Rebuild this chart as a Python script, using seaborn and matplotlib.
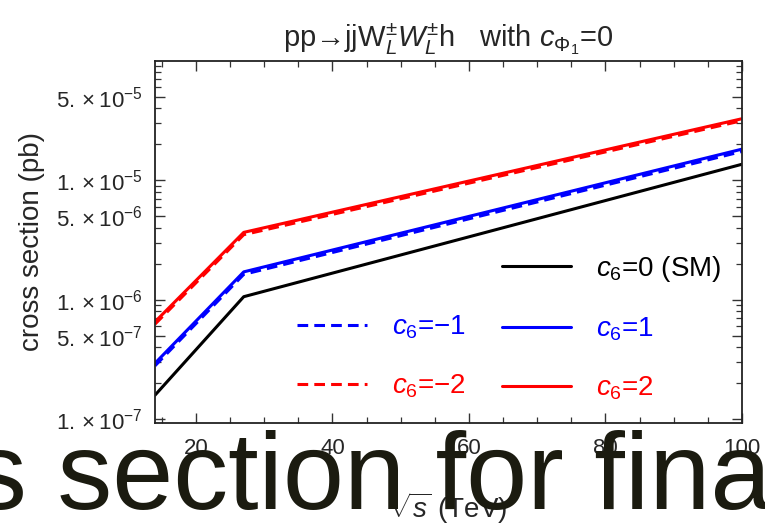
import numpy as np
import pandas as pd
import matplotlib
matplotlib.use("Agg")
import matplotlib.pyplot as plt
import seaborn as sns
from matplotlib.lines import Line2D
from matplotlib.ticker import FixedLocator, FixedFormatter, NullFormatter

# ---- data ----
energies = [14, 27, 100]                      # sqrt(s) in TeV
xs_sm = [1.59e-7, 1.06e-6, 1.36e-5]           # c6 = 0 (SM)
xs_c6_p1 = [2.94e-7, 1.71e-6, 1.82e-5]        # c6 = 1
xs_c6_m1 = [2.80e-7, 1.63e-6, 1.74e-5]        # c6 = -1
xs_c6_p2 = [6.53e-7, 3.66e-6, 3.27e-5]        # c6 = 2
xs_c6_m2 = [6.25e-7, 3.50e-6, 3.15e-5]        # c6 = -2

ytick_vals = [1e-7, 5e-7, 1e-6, 5e-6, 1e-5, 5e-5]
ytick_labels = [r"$1.\times10^{-7}$", r"$5.\times10^{-7}$", r"$1.\times10^{-6}$",
                r"$5.\times10^{-6}$", r"$1.\times10^{-5}$", r"$5.\times10^{-5}$"]
xtick_vals = [20, 40, 60, 80, 100]

sns.set_theme(style="ticks")
plt.rcParams['font.family'] = ['Liberation Sans', 'DejaVu Sans']
plt.rcParams['mathtext.fontset'] = 'custom'
plt.rcParams['mathtext.rm'] = 'Liberation Sans'
plt.rcParams['mathtext.it'] = 'Liberation Sans:italic'
plt.rcParams['mathtext.bf'] = 'Liberation Sans:bold'

fig = plt.figure(figsize=(7.65, 5.28), dpi=100)
ax = fig.add_axes([155/765, 1-423/528, (742-155)/765, (423-60.7)/528])

lw = 2.2
dash = (3.5, 2.0)
series = [
    (xs_sm, 'black', '-'),
    (xs_c6_p1, '#0000ff', '-'),
    (xs_c6_p2, '#ff0000', '-'),
    (xs_c6_m1, '#0000ff', '--'),
    (xs_c6_m2, '#ff0000', '--'),
]
for vals, col, ls in series:
    df = pd.DataFrame({'x': energies, 'y': vals})
    sns.lineplot(data=df, x='x', y='y', ax=ax, color=col, linewidth=lw, legend=False)
    if ls == '--':
        ax.lines[-1].set_dashes(dash)

ax.set_yscale('log')
ax.set_xlim(14, 100)
ax.set_ylim(9.3e-8, 1.0e-4)

ax.yaxis.set_major_locator(FixedLocator(ytick_vals))
ax.yaxis.set_major_formatter(FixedFormatter(ytick_labels))
minor_y = [m * 10.0**e for e in range(-8, -3) for m in range(2, 10) if m != 5]
ax.yaxis.set_minor_locator(FixedLocator(minor_y))
ax.yaxis.set_minor_formatter(NullFormatter())
ax.xaxis.set_major_locator(FixedLocator(xtick_vals))
ax.xaxis.set_minor_locator(FixedLocator(list(range(15, 100, 5))))

ax.tick_params(which='both', direction='in', top=True, right=True, color='#333333')
ax.tick_params(which='major', length=7, width=1.0, labelsize=16, pad=9)
ax.tick_params(which='minor', length=4, width=0.9)
ax.tick_params(axis='x', which='major', pad=11)
for s in ax.spines.values():
    s.set_linewidth(1.3)
    s.set_color('#222222')

ax.set_xlabel(r"$\sqrt{s}$ (TeV)", fontsize=20, labelpad=22)
ax.set_ylabel("cross section (pb)", fontsize=20, labelpad=8)
ax.set_title(r"pp→jjW$_L^{\pm}$$W_L^{\pm}$h   with $c_{\Phi_1}$=0", fontsize=21, pad=10)

# legend
blank = Line2D([], [], color='none')
h_m1 = Line2D([], [], color='#0000ff', lw=lw, dashes=dash)
h_m2 = Line2D([], [], color='#ff0000', lw=lw, dashes=dash)
h_sm = Line2D([], [], color='black', lw=lw)
h_p1 = Line2D([], [], color='#0000ff', lw=lw)
h_p2 = Line2D([], [], color='#ff0000', lw=lw)
handles = [blank, h_m1, h_m2, h_sm, h_p1, h_p2]
labels = [" ", r"$c_6$=$-$1", r"$c_6$=$-$2", r"$c_6$=0 (SM)", r"$c_6$=1", r"$c_6$=2"]
leg = ax.legend(handles, labels, ncol=2, frameon=False, fontsize=20,
                handlelength=2.5, handletextpad=0.9, columnspacing=1.3,
                labelspacing=1.13, loc='lower right',
                bbox_to_anchor=(0.989, 0.02), borderpad=0,
                labelcolor=['black', '#0000ff', '#ff0000', 'black', '#0000ff', '#ff0000'])

# overlapping caption fragment present in the reference image
fig.text(-28/765, 19/528, "s section for fina", fontsize=79, color='#1b1b10',
         ha='left', va='baseline', zorder=10)

fig.savefig("out.png", dpi=100)
